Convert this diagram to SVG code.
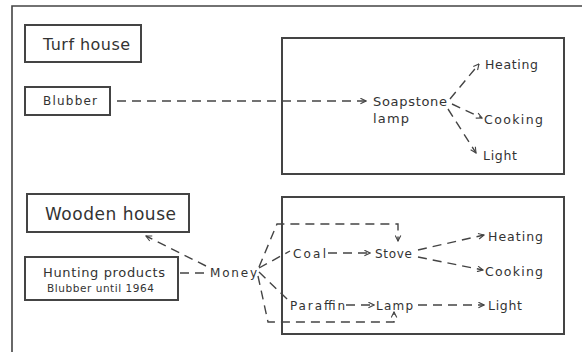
<svg xmlns="http://www.w3.org/2000/svg" width="582" height="352" viewBox="0 0 582 352">
<style>
.frame{fill:none;stroke:#444;stroke-width:1.6}
.box{fill:#fff;stroke:#444;stroke-width:2}
.t{font-family:"DejaVu Sans","Liberation Sans",sans-serif;fill:#333}
.c{fill:none;stroke:#444;stroke-width:1.4;stroke-dasharray:9 6}
</style>
<defs>
<marker id="ah" viewBox="0 0 10 10" refX="9" refY="5" markerWidth="7" markerHeight="7" markerUnits="userSpaceOnUse" orient="auto">
<path d="M1,1 L9,5 L1,9" fill="none" stroke="#444" stroke-width="1.6"/>
</marker>
</defs>
<rect width="582" height="352" fill="#fff"/>
<path class="frame" d="M12,352 V6 H582"/>

<g id="turf-house">
<rect class="box" x="25" y="25" width="116" height="37"/>
<text class="t" x="43" y="50" font-size="16" textLength="87" lengthAdjust="spacing">Turf house</text>
</g>
<g id="blubber">
<rect class="box" x="25" y="87" width="85" height="28"/>
<text class="t" x="43" y="105" font-size="12" textLength="54" lengthAdjust="spacing">Blubber</text>
</g>
<g id="turf-panel">
<rect class="box" x="282" y="38" width="282" height="136" fill="none"/>
</g>
<g id="soapstone-lamp">
<text class="t" x="373" y="106" font-size="13" textLength="74" lengthAdjust="spacing">Soapstone</text>
<text class="t" x="373" y="123" font-size="13" textLength="36" lengthAdjust="spacing">lamp</text>
</g>
<g id="heating-1"><text class="t" x="485" y="69" font-size="12.5" textLength="53" lengthAdjust="spacing">Heating</text></g>
<g id="cooking-1"><text class="t" x="484" y="124" font-size="12.5" textLength="59" lengthAdjust="spacing">Cooking</text></g>
<g id="light-1"><text class="t" x="483" y="160" font-size="12.5" textLength="34" lengthAdjust="spacing">Light</text></g>

<g id="wooden-house">
<rect class="box" x="27" y="194" width="162" height="38"/>
<text class="t" x="45" y="220" font-size="17" textLength="131" lengthAdjust="spacing">Wooden house</text>
</g>
<g id="hunting-products">
<rect class="box" x="25" y="257" width="153" height="43"/>
<text class="t" x="43" y="277" font-size="13" textLength="122" lengthAdjust="spacing">Hunting products</text>
<text class="t" x="47" y="292" font-size="10.5" textLength="107" lengthAdjust="spacing">Blubber until 1964</text>
</g>
<g id="money"><text class="t" x="210" y="277" font-size="12" textLength="47" lengthAdjust="spacing">Money</text></g>
<g id="wooden-panel">
<rect class="box" x="282" y="197" width="282" height="137" fill="none"/>
</g>
<g id="coal"><text class="t" x="293" y="258" font-size="12" textLength="33" lengthAdjust="spacing">Coal</text></g>
<g id="stove"><text class="t" x="375" y="258" font-size="12" textLength="37" lengthAdjust="spacing">Stove</text></g>
<g id="heating-2"><text class="t" x="488" y="241" font-size="12.5" textLength="55" lengthAdjust="spacing">Heating</text></g>
<g id="cooking-2"><text class="t" x="485" y="276" font-size="12.5" textLength="58" lengthAdjust="spacing">Cooking</text></g>
<g id="paraffin"><text class="t" x="290" y="310" font-size="12" textLength="55" lengthAdjust="spacing">Paraffin</text></g>
<g id="lamp"><text class="t" x="376" y="310" font-size="12" textLength="37" lengthAdjust="spacing">Lamp</text></g>
<g id="light-2"><text class="t" x="488" y="310" font-size="12.5" textLength="34" lengthAdjust="spacing">Light</text></g>

<g id="connectors">
<path class="c" d="M117,101 H366" marker-end="url(#ah)"/>
<path class="c" d="M450,99 L479,64" marker-end="url(#ah)"/>
<path class="c" d="M452,104 L482,118" marker-end="url(#ah)"/>
<path class="c" d="M448,109 L476,153" marker-end="url(#ah)"/>
<path class="c" d="M180,273 H207"/>
<path class="c" d="M206,266 L146,236" marker-end="url(#ah)"/>
<path class="c" d="M259,267 L277,224 H398 V241" marker-end="url(#ah)"/>
<path class="c" d="M259,268 L290,251"/>
<path class="c" d="M328,253 H370" marker-end="url(#ah)"/>
<path class="c" d="M418,250 L484,235" marker-end="url(#ah)"/>
<path class="c" d="M418,257 L483,270" marker-end="url(#ah)"/>
<path class="c" d="M259,272 L288,300"/>
<path class="c" d="M346,305 H374" marker-end="url(#ah)"/>
<path class="c" d="M418,305 H484" marker-end="url(#ah)"/>
<path class="c" d="M258,276 L268,322 H394 V312" marker-end="url(#ah)"/>
</g>
</svg>
